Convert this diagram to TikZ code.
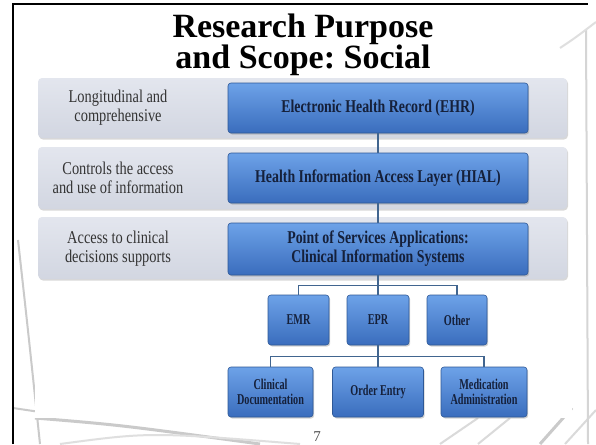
\documentclass[tikz,border=0pt]{standalone}
\usepackage{fontspec}
\setmainfont{Liberation Serif}
\newfontfamily\bandfont[FakeStretch=0.8]{Liberation Serif}
\newfontfamily\boxfont[FakeStretch=0.77]{Liberation Serif}
\newfontfamily\smallfont[FakeStretch=0.68]{Liberation Serif}
\usetikzlibrary{shadows}
\definecolor{bandtop}{HTML}{E3E6EE}
\definecolor{bandbot}{HTML}{D2D6E1}
\definecolor{boxtop}{HTML}{6DA2E8}
\definecolor{boxbot}{HTML}{3A6DBD}
\definecolor{boxedge}{HTML}{2E5896}
\definecolor{navy}{HTML}{15203A}
\definecolor{conn}{HTML}{41658F}
\definecolor{deco}{HTML}{CACACA}
\tikzset{
  band/.style={rounded corners=4pt, top color=bandtop, bottom color=bandbot, draw=none,
    drop shadow={shadow xshift=1pt, shadow yshift=-1.5pt, opacity=0.3},
    minimum width=529pt, inner sep=0pt},
  bandtxt/.style={font=\bandfont\fontsize{18}{19}\selectfont, text=black!80, align=center, inner sep=0pt},
  bluebox/.style={rounded corners=3pt, draw=boxedge, line width=0.6pt, top color=boxtop, bottom color=boxbot,
    drop shadow={shadow xshift=1.2pt, shadow yshift=-1.5pt, opacity=0.35},
    text=navy, align=center, inner sep=0pt},
  bigtxt/.style={font=\boxfont\bfseries\fontsize{18}{19}\selectfont},
  smalltxt/.style={font=\smallfont\bfseries\fontsize{15}{15}\selectfont},
  link/.style={draw=conn, line width=1.3pt},
  decoline/.style={draw=deco, line width=2pt},
}
\begin{document}
\frenchspacing
\begin{tikzpicture}[x=1pt,y=-1pt]
\useasboundingbox (0,0) rectangle (596,444);
\fill[white] (0,0) rectangle (596,444);
% background decoration
\begin{scope}
\clip (13,4) rectangle (596,444);
\draw[decoline] (18,240) .. controls (28,330) .. (40,444);
\draw[decoline] (13,408) -- (40,412);
\draw[decoline, line width=3pt] (35,418) .. controls (120,425) .. (260,444);
\draw[decoline, draw=deco!60] (60,444) .. controls (150,432) .. (300,444);
\draw[decoline, draw=deco!70] (440,444) -- (478,418);
\draw[decoline, draw=deco!70] (478,444) -- (510,418);
\draw[decoline, line width=3pt] (540,444) -- (572,408);
\draw[decoline, draw=deco!70] (565,444) -- (596,410);
\draw[decoline, draw=deco!80] (586,30) -- (588,444);
\draw[decoline, draw=deco!60] (560,48) .. controls (575,38) .. (596,22);
\end{scope}
% white panel
\fill[white] (35,70) rectangle (572,418);
% frame
\draw[black, line width=2pt] (13,444) -- (13,4) -- (588,4);
% title
\node[font=\bfseries\fontsize{34}{31}\selectfont, align=center, inner sep=0pt] (title) at (303,45)
  {Research Purpose\\and Scope: Social};
% bands
\node[band, minimum height=60pt] (band1) at (302.5,108) {};
\node[band, minimum height=62pt] (band2) at (302.5,178) {};
\node[band, minimum height=62pt] (band3) at (302.5,248) {};
\node[bandtxt] (t1) at (118,108) {Longitudinal and\\comprehensive};
\node[bandtxt] (t2) at (118,178) {Controls the access\\and use of information};
\node[bandtxt] (t3) at (118,249) {Access to clinical\\decisions supports};
% main boxes
\node[bluebox, bigtxt, minimum width=300pt, minimum height=50pt] (ehr) at (378,108) {Electronic Health Record (EHR)};
\node[bluebox, bigtxt, minimum width=300pt, minimum height=50pt] (hial) at (378,178) {Health Information Access Layer (HIAL)};
\node[bluebox, bigtxt, minimum width=300pt, minimum height=52pt] (pos) at (378,249) {Point of Services Applications:\\Clinical Information Systems};
% second level
\node[bluebox, smalltxt, minimum width=61pt, minimum height=50pt] (emr) at (298.5,320) {EMR};
\node[bluebox, smalltxt, minimum width=62pt, minimum height=50pt] (epr) at (378,320) {EPR};
\node[bluebox, smalltxt, minimum width=60pt, minimum height=50pt] (other) at (457,320) {Other};
% third level
\node[bluebox, smalltxt, minimum width=85pt, minimum height=50pt] (clin) at (270.5,392) {Clinical\\Documentation};
\node[bluebox, smalltxt, minimum width=91pt, minimum height=50pt] (order) at (378,392) {Order Entry};
\node[bluebox, smalltxt, minimum width=86pt, minimum height=50pt] (med) at (484,392) {Medication\\Administration};
% connectors
\draw[link] (ehr.south) -- (hial.north);
\draw[link] (hial.south) -- (pos.north);
\draw[link] (pos.south) -- (epr.north);
\draw[link] (emr.north) -- ++(0,-9) -| (other.north);
\draw[link] (epr.south) -- (order.north);
\draw[link] (clin.north) -- ++(0,-10) -| (med.north);
% page number
\node[font=\fontsize{15}{15}\selectfont, text=black!70, inner sep=0pt] (pg) at (317,437) {7};
\end{tikzpicture}
\end{document}
